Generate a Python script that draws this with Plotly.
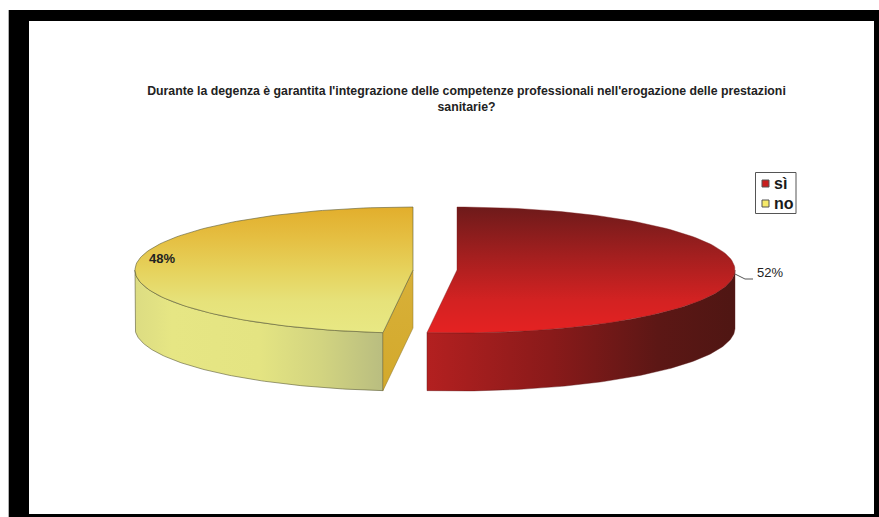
import numpy as np
import plotly.graph_objects as go

# Data
categories = ["sì", "no"]
shares = [52, 48]
share_labels = ["52%", "48%"]
title_lines = [
    "Durante la degenza è garantita l'integrazione delle competenze professionali nell'erogazione delle prestazioni",
    "sanitarie?",
]

# Drawing set-up (pixels of the 879x517 page)
W, H = 879, 517
A, B, DEPTH = 278, 63, 58
CY = 270
RED_CX, YEL_CX = 457, 413
SPLIT_TWEAK = -1.0  # degrees: perspective of the original 3D view


def rim(cx, t0, t1, dy=0, n=120):
    t = np.radians(np.linspace(t0, t1, n))
    return cx + A * np.sin(t), CY - B * np.cos(t) + dy


split = 360 * shares[0] / sum(shares) + SPLIT_TWEAK
fig = go.Figure()


def poly(x, y, stops, direction, line):
    fig.add_trace(go.Scatter(
        x=list(x), y=list(y), mode="lines", fill="toself", showlegend=False, hoverinfo="skip",
        line=dict(color=line[0], width=line[1]),
        fillgradient=dict(type=direction, colorscale=stops),
    ))


# "no" slice: outer wall, cut face, top
x1, y1 = rim(YEL_CX, split, 270)
x2, y2 = rim(YEL_CX, 270, split, DEPTH)
poly(np.r_[x1, x2, x1[0]], np.r_[y1, y2, y1[0]],
     [[0, "#dcdc82"], [0.15, "#e6e684"], [0.5, "#e4e482"], [0.75, "#d2d480"], [1, "#b9bd80"]], "horizontal",
     ("#5a5a38", 0.6))
xe, ye = rim(YEL_CX, split, split, n=1)
poly([YEL_CX, xe[0], xe[0], YEL_CX, YEL_CX], [CY, ye[0], ye[0] + DEPTH, CY + DEPTH, CY],
     [[0, "#d3a92c"], [1, "#d8b038"]], "vertical", ("#8a7530", 0.5))
x3, y3 = rim(YEL_CX, split, 360)
poly(np.r_[YEL_CX, x3, YEL_CX], np.r_[CY, y3, CY],
     [[0, "#e8e884"], [0.25, "#e6e27a"], [0.5, "#e6d25c"], [0.75, "#e5bf42"], [1, "#e2ae2c"]], "vertical",
     ("#5a5a38", 0.6))

# "sì" slice: outer wall, top
x4, y4 = rim(RED_CX, 90, split)
x5, y5 = rim(RED_CX, split, 90, DEPTH)
poly(np.r_[x4, x5, x4[0]], np.r_[y4, y5, y4[0]],
     [[0, "#b32020"], [0.4, "#8a1a1a"], [0.75, "#5c1715"], [1, "#4f1613"]], "horizontal", ("#5a1a18", 0.4))
x6, y6 = rim(RED_CX, 0, split)
poly(np.r_[RED_CX, x6, RED_CX], np.r_[CY, y6, CY],
     [[0, "#e52222"], [0.25, "#d42222"], [0.6, "#a51f1f"], [1, "#6e1a1a"]], "vertical", ("#7a1c1c", 0.4))

# Leader line for the 52% label
fig.add_trace(go.Scatter(x=[735, 745, 753], y=[274, 279, 279], mode="lines", showlegend=False,
                         hoverinfo="skip", line=dict(color="#555555", width=1)))

# Slice labels
fig.add_trace(go.Scatter(x=[770], y=[274], mode="text", text=[share_labels[0]], showlegend=False, hoverinfo="skip",
                         textfont=dict(family="Liberation Sans", size=13, color="#222222")))
fig.add_trace(go.Scatter(x=[162], y=[260], mode="text", text=["<b>%s</b>" % share_labels[1]], showlegend=False,
                         hoverinfo="skip", textfont=dict(family="Liberation Sans", size=13, color="#222222")))

# Legend
fig.add_trace(go.Scatter(
    x=[765.5, 765.5], y=[183.5, 203.5], mode="markers", showlegend=False, hoverinfo="skip",
    marker=dict(symbol="square", size=7, color=["#c81e1e", "#f5e96a"], line=dict(color="#555555", width=1)),
))
for name, yy in zip(categories, [183, 203]):
    fig.add_annotation(x=772, y=yy, text="<b>%s</b>" % name, showarrow=False, xanchor="left", yanchor="middle",
                       font=dict(family="Liberation Sans", size=16, color="#1a1a1a"))

shapes = [
    dict(type="rect", x0=9, y0=10, x1=W, y1=H, fillcolor="#000000", line_width=0, layer="below"),
    dict(type="rect", x0=29, y0=21, x1=874, y1=514, fillcolor="#ffffff", line_width=0, layer="below"),
    dict(type="line", x0=8.5, y0=10, x1=8.5, y1=H, line=dict(color="#b0b0b0", width=1), layer="below"),
    dict(type="rect", x0=755.5, y0=172.5, x1=796, y1=213.5, fillcolor="#ffffff",
         line=dict(color="#555555", width=1), layer="below"),
]

fig.update_layout(
    width=W, height=H, margin=dict(l=0, r=0, t=0, b=0), autosize=False,
    paper_bgcolor="#ffffff", plot_bgcolor="#ffffff", showlegend=False, shapes=shapes,
    xaxis=dict(range=[0, W], visible=False, fixedrange=True),
    yaxis=dict(range=[H, 0], visible=False, fixedrange=True),
    title=dict(text="<b>" + "<br>".join(title_lines) + "</b>", x=466.5 / W, xanchor="center",
               y=1 - 95 / H, yanchor="top",
               font=dict(family="Liberation Sans", size=12.3, color="#222222")),
)

fig.write_html("out.html", config={"displayModeBar": False},
               post_script="document.body.style.margin='0';document.body.style.overflow='hidden';")
